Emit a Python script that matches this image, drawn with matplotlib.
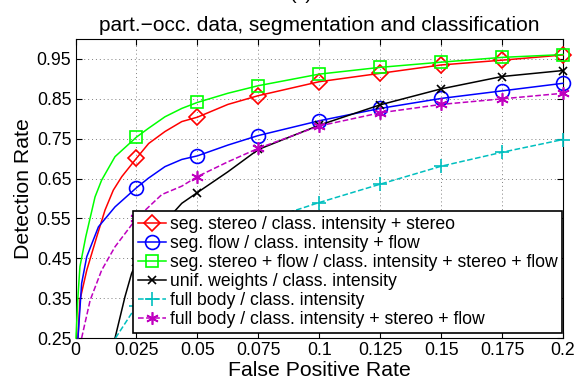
import numpy as np
import matplotlib
matplotlib.use("Agg")
import matplotlib.pyplot as plt

plt.rcParams["font.family"] = ["Liberation Sans", "DejaVu Sans"]

# ROC curves (false positive rate, detection rate)
fpr_stereo = [0.001, 0.0018, 0.0046, 0.0087, 0.0121, 0.0155, 0.019, 0.025, 0.03, 0.0367, 0.0436,
              0.05, 0.0625, 0.075, 0.1, 0.125, 0.15, 0.175, 0.2]
tpr_stereo = [0.25, 0.345, 0.42, 0.504, 0.571, 0.621, 0.655, 0.701, 0.738, 0.768, 0.793,
              0.804, 0.836, 0.858, 0.893, 0.914, 0.935, 0.947, 0.960]

fpr_flow = [0.001, 0.0025, 0.0046, 0.0094, 0.0162, 0.025, 0.0299, 0.0367, 0.0436,
            0.05, 0.0625, 0.075, 0.1, 0.125, 0.15, 0.175, 0.2]
tpr_flow = [0.25, 0.387, 0.454, 0.529, 0.579, 0.627, 0.651, 0.680, 0.698,
            0.707, 0.734, 0.758, 0.795, 0.826, 0.851, 0.870, 0.889]

fpr_both = [0.0002, 0.0009, 0.0018, 0.0042, 0.008, 0.0107, 0.0162, 0.025, 0.0299, 0.0367, 0.0436,
            0.05, 0.0625, 0.075, 0.1, 0.125, 0.15, 0.175, 0.2]
tpr_both = [0.25, 0.345, 0.429, 0.504, 0.604, 0.646, 0.705, 0.754, 0.776, 0.805, 0.826,
            0.841, 0.864, 0.883, 0.912, 0.929, 0.942, 0.954, 0.961]

fpr_unif = [0.0162, 0.0203, 0.023, 0.025, 0.035, 0.0436, 0.05, 0.0625, 0.075, 0.1, 0.125, 0.15, 0.175, 0.2]
tpr_unif = [0.25, 0.354, 0.412, 0.44, 0.53, 0.588, 0.615, 0.667, 0.723, 0.784, 0.835, 0.875, 0.906, 0.921]

fpr_full = [0.0164, 0.023, 0.025, 0.05, 0.075, 0.1, 0.125, 0.15, 0.175, 0.2]
tpr_full = [0.25, 0.312, 0.33, 0.46, 0.54, 0.590, 0.636, 0.681, 0.716, 0.748]

fpr_full_all = [0.0025, 0.006, 0.0107, 0.0162, 0.025, 0.0354, 0.0436, 0.05, 0.0625, 0.075,
                0.1, 0.125, 0.15, 0.175, 0.2]
tpr_full_all = [0.25, 0.345, 0.42, 0.479, 0.55, 0.61, 0.631, 0.655, 0.692, 0.726,
                0.782, 0.815, 0.836, 0.850, 0.864]

labels = [
    "seg. stereo / class. intensity + stereo",
    "seg. flow / class. intensity + flow",
    "seg. stereo + flow / class. intensity + stereo + flow",
    "unif. weights / class. intensity",
    "full body / class. intensity",
    "full body / class. intensity + stereo + flow",
]

asterisk = (6, 2, 0)
styles = [
    (fpr_stereo, tpr_stereo, "r", "-", "D", 8),
    (fpr_flow, tpr_flow, "b", "-", "o", 10),
    (fpr_both, tpr_both, "#00ff00", "-", "s", 8),
    (fpr_unif, tpr_unif, "k", "-", "x", 6),
    (fpr_full, tpr_full, "c", "--", "+", 10),
    (fpr_full_all, tpr_full_all, "m", "--", asterisk, 9),
]

fig = plt.figure(figsize=(5.81, 3.79), dpi=100)
ax = fig.add_axes([0.130, 0.108, 0.839, 0.789])

for (x, y, c, ls, mk, ms), lab in zip(styles, labels):
    x = np.asarray(x)
    # markers only at the 0.025 grid steps
    marks = [i for i, v in enumerate(x) if np.isclose(v / 0.025, round(v / 0.025)) and v > 0]
    ax.plot(x, y, color=c, ls=ls, lw=1.1, marker=mk, ms=ms, mfc="none", mec=c,
            mew=1.2, markevery=marks, label=lab, clip_on=False, zorder=3)

ax.set_xlim(0, 0.2)
ax.set_ylim(0.25, 1.0)
ax.set_xticks(np.arange(0, 0.2001, 0.025))
ax.set_xticklabels(["0", "0.025", "0.05", "0.075", "0.1", "0.125", "0.15", "0.175", "0.2"])
ax.set_yticks(np.arange(0.25, 0.951, 0.1))
ax.set_yticklabels(["0.25", "0.35", "0.45", "0.55", "0.65", "0.75", "0.85", "0.95"])
ax.tick_params(direction="in", length=4, width=0.8, top=True, right=True,
               labelsize=12.7, pad=3)
ax.grid(True, color="#7f7f7f", linestyle=(0, (1, 3)), linewidth=0.7)
for sp in ax.spines.values():
    sp.set_linewidth(0.8)

ax.set_xlabel("False Positive Rate", fontsize=15.3, labelpad=1)
ax.set_ylabel("Detection Rate", fontsize=15.3, labelpad=3)
ax.set_title("part.\u2212occ. data, segmentation and classification", fontsize=15, pad=6)
fig.text(0.518, 1.0 + 1.0 / 379, "(c)", ha="center", va="baseline", fontsize=14)

leg = ax.legend(loc="lower left", bbox_to_anchor=(0.1186, 0.0177), borderaxespad=0,
                fontsize=12.7, handlelength=1.6, handletextpad=0.2, labelspacing=0.12,
                borderpad=0.25, fancybox=False, framealpha=1, edgecolor="k")
leg.get_frame().set_linewidth(1.2)
leg.set_zorder(5)

fig.savefig("out.png", dpi=100)
